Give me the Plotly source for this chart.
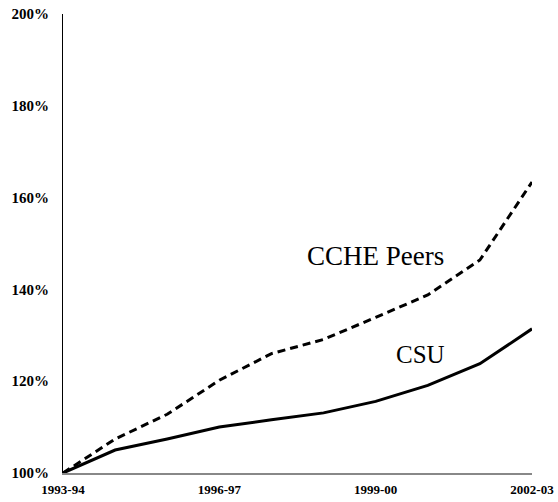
import plotly.graph_objects as go

years = ["1993-94", "1994-95", "1995-96", "1996-97", "1997-98",
         "1998-99", "1999-00", "2000-01", "2001-02", "2002-03"]
csu = [100, 105.0, 107.4, 110.0, 111.6, 113.1, 115.6, 119.1, 123.8, 131.4]
peers = [100, 107.4, 112.8, 120.2, 126.0, 129.1, 133.9, 138.8, 146.4, 163.4]
x_tick_labels = ["1993-94", "1996-97", "1999-00", "2002-03"]
y_ticks = [100, 120, 140, 160, 180, 200]
y_tick_labels = [f"{v}%" for v in y_ticks]

xi = list(range(len(years)))
x_tick_pos = [years.index(t) for t in x_tick_labels]

fig = go.Figure()
fig.add_trace(go.Scatter(x=xi, y=peers, mode="lines", name="CCHE Peers",
                         line=dict(color="black", width=3, dash="8px,5px")))
fig.add_trace(go.Scatter(x=xi, y=csu, mode="lines", name="CSU",
                         line=dict(color="black", width=3)))

serif = "Liberation Serif, DejaVu Serif, Times New Roman, serif"
fig.add_annotation(text="CCHE Peers", x=0.667, y=0.473, xref="paper", yref="paper",
                   xanchor="center", yanchor="middle",
                   showarrow=False, font=dict(family=serif, size=27, color="black"))
fig.add_annotation(text="CSU", x=0.763, y=0.259, xref="paper", yref="paper",
                   xanchor="center", yanchor="middle",
                   showarrow=False, font=dict(family=serif, size=25, color="black"))

fig.update_layout(
    width=558, height=502,
    margin=dict(l=63, r=26, t=14, b=29),
    paper_bgcolor="white", plot_bgcolor="white",
    showlegend=False,
    font=dict(family=serif),
    xaxis=dict(range=[0, 9], tickvals=x_tick_pos, ticktext=x_tick_labels,
               automargin=False, ticklabeloverflow="allow",
               showgrid=False, zeroline=False, showline=True, linecolor="#888888",
               linewidth=2, ticks="", ticklabelstandoff=3,
               tickfont=dict(family=serif, size=13, color="black", weight="bold")),
    yaxis=dict(range=[100, 200], tickvals=y_ticks, ticktext=y_tick_labels,
               automargin=False, ticklabeloverflow="allow",
               showgrid=False, zeroline=False, showline=True, linecolor="black",
               linewidth=1, ticks="", ticklabelstandoff=10,
               tickfont=dict(family=serif, size=15, color="black", weight="bold")),
)

fig.write_html("out.html", config={"displayModeBar": False},
               post_script="document.body.style.margin='0';")
